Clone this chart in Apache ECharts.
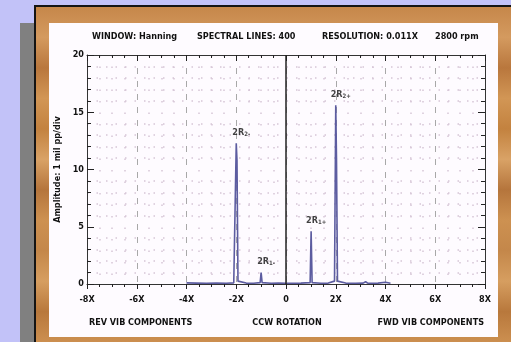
<!DOCTYPE html>
<html>
<head>
<meta charset="utf-8">
<script src="https://cdn.jsdelivr.net/npm/echarts@6/dist/echarts.min.js"></script>
<style>
html,body{margin:0;padding:0;background:#c2c2f8;}
#c{width:511px;height:342px;}
</style>
</head>
<body>
<div id="c"></div>
<script>
// ---- data ----
const freqX = [-4.0, -3.6, -3.2, -2.8, -2.4, -2.1, -2.04, -2.0, -1.97, -1.93, -1.6, -1.3, -1.04, -1.0, -0.96, -0.6, -0.3, 0.0, 0.3, 0.6, 0.97, 1.01, 1.05, 1.4, 1.7, 1.95, 2.0, 2.03, 2.07, 2.4, 2.8, 3.1, 3.2, 3.3, 3.7, 4.0, 4.2];
const amplitude = [0.1, 0.08, 0.06, 0.08, 0.06, 0.1, 0.25, 12.3, 10.8, 0.25, 0.08, 0.06, 0.12, 1.0, 0.12, 0.06, 0.08, 0.06, 0.06, 0.08, 0.12, 4.6, 0.12, 0.06, 0.08, 0.25, 15.6, 11.0, 0.25, 0.08, 0.06, 0.08, 0.2, 0.06, 0.08, 0.15, 0.06];
const peakNames = ['2R|2-', '2R|1-', '2R|1+', '2R|2+'];
const peakX = [-2.0, -1.0, 1.01, 2.0];
const peakY = [12.3, 1.0, 4.6, 15.6];
const xTicks = [-8, -6, -4, -2, 0, 2, 4, 6, 8];
const yTicks = [0, 5, 10, 15, 20];
const titleTexts = ['WINDOW: Hanning', 'SPECTRAL LINES: 400', 'RESOLUTION: 0.011X', '2800 rpm'];
const footerTexts = ['REV VIB COMPONENTS', 'CCW ROTATION', 'FWD VIB COMPONENTS'];
const yAxisName = 'Amplitude: 1 mil pp/div';

const FONT = "'DejaVu Sans Condensed', 'Liberation Sans Narrow', Arial, sans-serif";
const chart = echarts.init(document.getElementById('c'), null, {renderer: 'canvas'});

const lineData = freqX.map((x, i) => [x, amplitude[i]]);
const peakData = peakX.map((x, i) => ({value: [x, peakY[i]], name: peakNames[i]}));

const woodStops = [];
const woodCols = ['#c6874a','#d49a5f','#b9773d','#d29655','#c3823f','#d9a266','#b5753c','#cd9151','#c4874a','#d69e60','#b8783c','#cc8f50'];
for (let i = 0; i < woodCols.length; i++) woodStops.push({offset: i / (woodCols.length - 1), color: woodCols[i]});

const txt = (t, x, y, align) => ({type: 'text', z: -5, x: x, y: y,
  style: {text: t, fill: '#111', font: "bold 9px " + FONT, textAlign: align || 'left', textVerticalAlign: 'middle'}});

const tickStyle = {color: '#222', width: 1};
const option = {
  backgroundColor: '#c2c2f8',
  animation: false,
  graphic: [
    {type: 'rect', z: -20, shape: {x: 20, y: 23, width: 16, height: 319}, style: {fill: '#808080'}},
    {type: 'rect', z: -19, shape: {x: 34, y: 5, width: 477, height: 337}, style: {fill: '#141414'}},
    {type: 'rect', z: -18, shape: {x: 36, y: 7, width: 475, height: 335},
      style: {fill: {type: 'linear', x: 0, y: 0, x2: 0, y2: 1, colorStops: woodStops}}},
    {type: 'rect', z: -17, shape: {x: 49, y: 23, width: 449, height: 314}, style: {fill: '#fefbff'}},
    txt(titleTexts[0], 92, 37),
    txt(titleTexts[1], 197, 37),
    txt(titleTexts[2], 322, 37),
    txt(titleTexts[3], 435, 37),
    txt(footerTexts[0], 89, 323),
    txt(footerTexts[1], 287, 323, 'center'),
    txt(footerTexts[2], 484, 323, 'right')
  ],
  grid: {left: 87, right: 26, top: 55, bottom: 58, containLabel: false},
  xAxis: [{
    type: 'value', min: xTicks[0], max: xTicks[xTicks.length - 1], interval: 2,
    axisLine: {show: true, onZero: false, lineStyle: {color: '#333', width: 1}},
    axisTick: {show: true, inside: false, length: 5, lineStyle: tickStyle},
    minorTick: {show: true, splitNumber: 4, length: 3, lineStyle: tickStyle},
    axisLabel: {color: '#111', fontFamily: FONT, fontWeight: 'bold', fontSize: 9, margin: 11,
      formatter: v => v === 0 ? '0' : v + 'X'},
    splitLine: {show: true, lineStyle: {color: '#a8a8a8', type: [6, 7], width: 1}},
    minorSplitLine: {show: true, lineStyle: {color: '#d6c6d6', type: [1.5, 10], width: 1.5}}
  }, {
    type: 'value', position: 'top', min: xTicks[0], max: xTicks[xTicks.length - 1], interval: 2,
    axisLine: {show: true, onZero: false, lineStyle: {color: '#333', width: 1}},
    axisTick: {show: true, inside: true, length: 6, lineStyle: tickStyle},
    minorTick: {show: true, splitNumber: 4, length: 3, lineStyle: tickStyle},
    axisLabel: {show: false}, splitLine: {show: false}
  }],
  yAxis: [{
    type: 'value', min: yTicks[0], max: yTicks[yTicks.length - 1], interval: 5,
    name: yAxisName, nameLocation: 'middle', nameRotate: 90, nameGap: 24,
    nameTextStyle: {color: '#111', fontFamily: FONT, fontWeight: 'bold', fontSize: 9},
    axisLine: {show: true, onZero: false, lineStyle: {color: '#333', width: 1}},
    axisTick: {show: true, inside: true, length: 7, lineStyle: tickStyle},
    minorTick: {show: true, splitNumber: 5, length: 4, lineStyle: tickStyle},
    axisLabel: {color: '#111', fontFamily: FONT, fontWeight: 'bold', fontSize: 9, margin: 3},
    splitLine: {show: false},
    minorSplitLine: {show: true, lineStyle: {color: '#d6c6d6', type: [1.5, 8], width: 1.5}}
  }, {
    type: 'value', position: 'right', min: yTicks[0], max: yTicks[yTicks.length - 1], interval: 5,
    axisLine: {show: true, onZero: false, lineStyle: {color: '#333', width: 1}},
    axisTick: {show: true, inside: true, length: 7, lineStyle: tickStyle},
    minorTick: {show: true, splitNumber: 5, length: 4, lineStyle: tickStyle},
    axisLabel: {show: false}, splitLine: {show: false}
  }],
  series: [{
    type: 'line', data: lineData, showSymbol: false, symbol: 'none',
    lineStyle: {color: '#5c5ca0', width: 1.6}, z: 3,
    markLine: {
      silent: true, symbol: ['none', 'none'], label: {show: false},
      lineStyle: {color: '#222', width: 1.5, type: 'solid'},
      data: [{xAxis: 0}]
    }
  }, {
    type: 'scatter', data: peakData, symbolSize: 0, z: 4,
    label: {
      show: true, position: 'top', offset: [5, -1],
      formatter: p => { const s = p.name.split('|'); return '{b|' + s[0] + '}{s|' + s[1] + '}'; },
      rich: {
        b: {fontFamily: FONT, fontWeight: 'bold', fontSize: 9, color: '#111', verticalAlign: 'bottom'},
        s: {fontFamily: FONT, fontWeight: 'bold', fontSize: 6, color: '#111', verticalAlign: 'bottom', padding: [5, 0, 0, 0]}
      }
    }
  }]
};
chart.setOption(option);
</script>
</body>
</html>
